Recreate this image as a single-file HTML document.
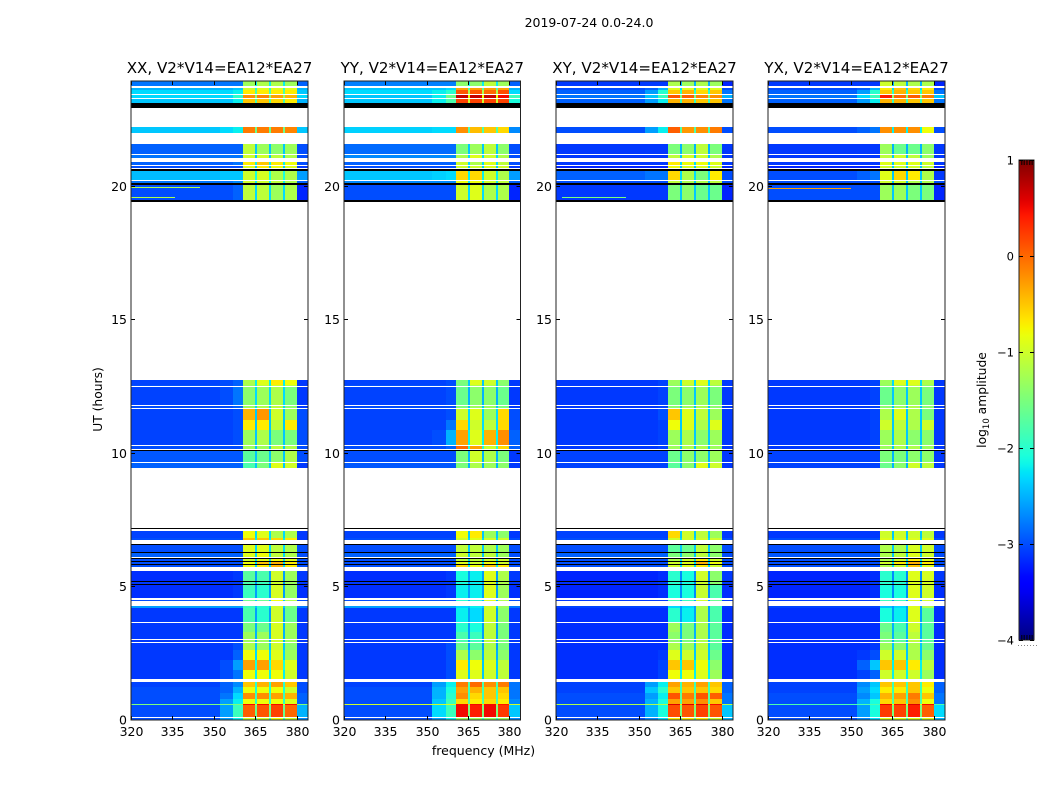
<!DOCTYPE html>
<html>
<head>
<meta charset="utf-8">
<title>2019-07-24 0.0-24.0</title>
<style>
html,body{margin:0;padding:0;background:#fff;}
svg{display:block;}
text{font-family:"DejaVu Sans","Liberation Sans",sans-serif;fill:#000;}
</style>
</head>
<body>
<svg id="fig" xmlns="http://www.w3.org/2000/svg" width="1050" height="800" viewBox="0 0 1050 800">
  <defs><linearGradient id="jetGrad" x1="0" y1="1" x2="0" y2="0"></linearGradient></defs>
  <text x="589" y="27" font-size="12.5" text-anchor="middle">2019-07-24 0.0-24.0</text>
  <text x="483.5" y="755" font-size="12.5" text-anchor="middle">frequency (MHz)</text>
  <text transform="translate(102,399.5) rotate(-90)" font-size="12.3" text-anchor="middle">UT (hours)</text>
  <text transform="translate(986,400) rotate(-90)" font-size="12.3" text-anchor="middle">log<tspan font-size="8.5" dy="3">10</tspan><tspan dy="-3"> amplitude</tspan></text>
</svg>
<script>
// Time rows (UT hours) that contain data; anything else is left blank (white).
const utLow  = [23.75,23.6,23.43,23.28,23.12,21.99,21.19,21.04,20.79,20.69,20.22,20.1,19.48,
  12.56,12.49,11.8,11.69,11.24,10.86,10.3,10.15,9.66,9.45,
  6.80,6.74,6.29,6.09,5.97,5.84,5.73,5.22,5.11,4.57,4.46,4.19,3.67,3.30,3.03,2.92,2.62,2.25,1.87,1.52,1.24,1.01,0.79,0.6,0.56,0.11,0];
const utHigh = [23.93,23.68,23.6,23.40,23.24,22.2,21.57,21.15,20.88,20.75,20.56,20.18,20.03,
  12.73,12.53,12.47,11.76,11.65,11.24,10.86,10.25,10.07,9.63,
  7.08,6.80,6.55,6.25,6.03,5.94,5.80,5.58,5.19,5.07,4.49,4.27,4.19,3.63,3.30,3.0,2.88,2.62,2.25,1.87,1.44,1.24,1.01,0.79,0.6,0.56,0.07];
// Frequency channels (MHz) and which value of a row each channel reads.
const freqEdges = [320,352,357,360.5,364.8,365.7,370,370.7,375,375.8,380,384];
const channelField = [0,1,2,3,8,4,8,5,8,6,7];
// Flagged (black) time ranges.
const flagLow  = [22.93,20.56,20.03,19.41,10.07,7.15,6.55,6.25,6.03,5.94,5.80,5.19,5.07];
const flagHigh = [23.12,20.62,20.10,19.48,10.12,7.19,6.59,6.29,6.06,5.97,5.84,5.22,5.11];
// log10 amplitude per row: [bg, edge1, edge2, band1, band2, band3, band4, post, gap]
const ampXX = [
[-2.8,-2.8,-2.8,-1.3,-1.2,-1.2,-1.3,-2.9,-2.2],[-2.5,-2.5,-2.4,-1,-.9,-.9,-.9,-2.5,-2],[-2.3,-2.3,-2.2,-.7,-.7,-.7,-.7,-2.4,-1.8],[-2.3,-2.3,-2,-.2,-.15,-.3,-.4,-2.3,-1.4],[-2.4,-2.4,-2.2,-.5,-.5,-.6,-.7,-2.5,-1.8],
[-2.4,-2.3,-2.2,-.1,-.1,-.1,-.15,-2.4,-1.6],[-2.9,-2.9,-2.9,-1.1,-1.3,-1.4,-1.3,-3,-2.4],[-2.8,-2.8,-2.8,-1,-1,-1.1,-1.2,-3,-2.4],[-2.9,-2.9,-2.8,-.7,-.5,-.7,-.8,-3,-2.2],[-3,-3,-3,-.9,-.7,-.8,-.9,-3.1,-2.4],
[-2.45,-2.4,-2.4,-1,-.95,-1.2,-1.2,-2.6,-2.1],[-2.8,-2.8,-2.7,-1,-1,-1.1,-1.2,-2.9,-2.2],[-3,-3,-2.9,-1.1,-1.1,-1.3,-1.2,-3.2,-2.3],
[-3.05,-3,-2.9,-1.2,-.9,-.7,-.8,-3.1,-2.2],[-3,-3,-2.9,-1.3,-1.1,-1,-1.1,-3.1,-2.2],[-3.05,-3,-2.8,-1.4,-1.3,-1.2,-1.5,-3.1,-2.3],[-3,-3,-2.9,-1.3,-1.2,-1.1,-1.4,-3.1,-2.3],
[-3.05,-3.05,-3,-.4,-.25,-1,-1.3,-3,-2.4],[-3.05,-3.05,-3,-.7,-.7,-1.1,-.7,-3,-2.4],[-3.05,-3.05,-3,-1.3,-1.2,-1.5,-1.5,-3,-2.4],[-3,-3,-3,-1.3,-1.3,-1.1,-1.2,-3,-2.4],[-2.95,-2.95,-2.95,-1.7,-1.6,-1.4,-1.2,-3,-2.4],[-2.9,-2.9,-2.9,-1.8,-1.5,-.9,-1,-3.1,-2.4],
[-3.05,-3.05,-3.05,-.8,-.9,-1.2,-1.2,-3.1,-2.3],[-3,-3,-3,-.5,-.5,-.6,-.7,-3.1,-2.2],[-3,-3,-3,-.9,-.9,-1.1,-1.2,-3,-2.3],[-2.9,-2.9,-2.9,-.9,-.8,-1.1,-1.2,-3,-2.3],[-3,-3,-3,-1,-.9,-.8,-.9,-3,-2.3],[-3,-3,-3,-.8,-.5,-.4,-.7,-3,-2.3],[-3,-3,-3,-.8,-.7,-.4,-.7,-3,-2.3],
[-3.15,-3.15,-3.1,-1.7,-1.8,-1,-1.3,-3.1,-2.6],[-3.1,-3.1,-3.1,-1.8,-1.9,-1,-1.3,-3.1,-2.6],[-3.15,-3.15,-3.1,-1.9,-2,-.95,-1.35,-3.15,-2.6],[-3,-3,-3,-1.6,-1.6,-.8,-1.2,-3,-2.4],
[-2.6,-2.6,-2.6,-1.9,-2,-1,-1.5,-2.8,-2.4],[-3.1,-3.1,-3.1,-1.8,-2,-1,-1.6,-3.1,-2.6],[-3.1,-3.1,-3.1,-1.5,-1.6,-.95,-1.3,-3.1,-2.5],[-3.1,-3.1,-3.1,-1.3,-1.3,-.95,-1.3,-3.1,-2.5],[-3.1,-3.1,-3.1,-1.3,-1.3,-1,-1.3,-3.1,-2.5],
[-3.1,-3.1,-3,-1.2,-1.3,-1,-1.4,-3.1,-2.4],[-3.1,-3.1,-2.9,-.8,-.8,-.9,-1.3,-3.1,-2.3],[-3.1,-3,-2.6,-.3,-.3,-.6,-.9,-3.1,-2.1],[-3.1,-3,-2.8,-.8,-.8,-.8,-1,-3.1,-2.2],
[-3.05,-2.9,-2.7,-.5,-.4,-.3,-.5,-3,-2],[-3,-2.9,-2.5,-.8,-.8,-.8,-1,-3,-2.1],[-3,-2.8,-2.3,-.2,-.2,-.3,-.4,-2.9,-1.9],[-3,-2.6,-2.2,-.8,-.8,-.8,-.9,-2.9,-2],
[-1.5,-1.5,-1.5,.5,.5,.5,.5,-1.5,-.8],[-3,-2.6,-1.9,.05,.1,.2,0,-2.5,-1.6],[-3,-2.6,-2.2,-1,-1,-.8,-1,-2.7,-2]];
const ampYY = [
[-2.75,-2.75,-2.75,-1.4,-1.4,-1.1,-1.3,-2.9,-2.2],[-2.4,-2.4,-2.3,-.3,-.3,-.3,-.3,-2.5,-1.8],[-2.3,-2.2,-2,.1,.1,0,.15,-2.3,-1.2],[-2.4,-2.2,-1.6,.7,.7,.7,.5,-1.9,-.8],[-2.4,-2.2,-1.8,.2,.2,.2,.2,-2.1,-1],
[-2.35,-2.3,-2.3,-.2,-.45,-.5,-.6,-2.7,-1.8],[-2.85,-2.85,-2.85,-1.5,-1.3,-1.1,-1.4,-3,-2.4],[-2.7,-2.7,-2.7,-1.2,-.9,-1,-1.2,-3,-2.3],[-2.9,-2.9,-2.9,-1,-1.2,-.9,-1.1,-3,-2.3],[-3,-3,-3,-1,-1,-.9,-1,-3.1,-2.4],
[-2.4,-2.35,-2.3,-.6,-.6,-1,-1.2,-2.6,-2.2],[-2.7,-2.7,-2.7,-.8,-.8,-1,-1.1,-2.9,-2.2],[-3,-3,-3,-1,-.9,-1.2,-1.2,-3.2,-2.3],
[-3.05,-3.05,-3,-1.5,-.9,-1,-1.4,-3.1,-2.4],[-3,-3,-3,-1.6,-1.2,-1.2,-1.5,-3.1,-2.4],[-3.05,-3.05,-3,-1.6,-1.4,-1.4,-1.6,-3.1,-2.5],[-3,-3,-3,-1.5,-1.3,-1.3,-1.5,-3.1,-2.4],
[-3.05,-3.05,-3,-1,-.9,-1.3,-.6,-3,-2.3],[-3.05,-3.05,-2.8,-.6,-1,-1.1,-.6,-3,-2.3],[-3.05,-3,-2.5,-.3,-.9,-.4,-.2,-2.9,-2.2],[-3,-3,-2.9,0,-.3,-1,-.6,-2.9,-2.1],[-3,-3,-3,-1.5,-1,-1.2,-1.5,-3.1,-2.5],[-2.95,-2.95,-2.95,-1.5,-1.2,-1.3,-1.4,-3.1,-2.5],
[-3.05,-3.05,-3.05,-.8,-.7,-1.3,-1.4,-3.1,-2.4],[-3,-3,-3,-1,-.9,-1,-1,-3,-2.3],[-3,-3,-3,-1.1,-1.1,-1.2,-1.3,-3,-2.4],[-2.9,-2.9,-2.9,-1,-1.1,-1.1,-1.3,-3,-2.4],[-3,-3,-3,-1.1,-1.1,-1,-1,-3,-2.3],[-3,-3,-3,-.9,-1,-.8,-1,-3,-2.3],[-3,-3,-3,-.6,-.8,-.5,-.7,-3,-2.2],
[-3.15,-3.15,-3.1,-2.1,-2.2,-.9,-1.2,-3.1,-2.6],[-3.1,-3.1,-3.1,-2.1,-2.2,-.9,-1.2,-3.1,-2.6],[-3.15,-3.15,-3.1,-2.2,-2.2,-.9,-1.3,-3.15,-2.6],[-3,-3,-3,-2,-2,-.9,-1.2,-3,-2.5],
[-2.6,-2.6,-2.6,-2.3,-2.2,-1,-1.3,-2.8,-2.4],[-3.1,-3.1,-3.1,-2.2,-2.3,-1,-1.4,-3.1,-2.6],[-3.1,-3.1,-3.1,-2,-2.1,-1.1,-1.5,-3.1,-2.6],[-3.1,-3.1,-3.1,-1.8,-1.9,-1.1,-1.5,-3.1,-2.6],[-3.1,-3.1,-3.1,-1.8,-1.9,-1.1,-1.5,-3.1,-2.6],
[-3.1,-3.1,-3,-1.6,-1.7,-1.2,-1.5,-3.1,-2.6],[-3.1,-3.1,-3,-1.2,-1.4,-1.1,-1.4,-3.1,-2.5],[-3.1,-3.1,-3,-.7,-.8,-.9,-1.1,-3.1,-2.4],[-3.1,-3.1,-3,-.9,-.9,-1,-1.1,-3.1,-2.4],
[-3.05,-2.6,-2.2,-.1,0,-.2,-.1,-2.8,-1.8],[-3,-2.5,-2.1,-.3,-.4,-.5,-.5,-2.8,-1.9],[-3,-2.5,-2,-.2,-.6,-.5,-.6,-2.8,-1.9],[-3,-2.4,-1.9,-.6,-.7,-.6,-.7,-2.7,-1.8],
[-1,-1,-1,.5,.5,.5,.45,-1,-.6],[-3,-2.3,-1.9,.5,.4,.5,.25,-2.4,-1.5],[-3,-2.6,-2.2,-1.3,-1.3,-1.3,-1.3,-2.7,-2]];
const ampXY = [
[-3.1,-3.1,-3.1,-1.2,-1.3,-1.2,-1.3,-3.2,-2.5],[-3,-2.9,-2.5,-.9,-.9,-.9,-.9,-3,-2.3],[-2.9,-2.6,-2,-.5,-.4,-.6,-.5,-2.8,-2],[-2.8,-2.4,-1.9,.1,.05,-.15,-.2,-2.5,-1.5],[-2.9,-2.6,-2.2,-.4,-.4,-.5,-.5,-2.8,-1.9],
[-3,-2.6,-2.2,.05,-.25,-.2,-.1,-3,-1.8],[-3.1,-3.1,-3.1,-1.5,-1.4,-1.1,-1.5,-3.1,-2.5],[-3.1,-3.1,-3.1,-1.1,-.95,-1,-1.2,-3.1,-2.4],[-3.1,-3.1,-3.1,-.7,-.8,-.8,-.9,-3.1,-2.3],[-3.2,-3.2,-3.2,-.8,-.9,-.9,-1,-3.2,-2.4],
[-2.9,-2.8,-2.8,-.6,-1.2,-1.5,-.7,-3,-2.3],[-3,-3,-3,-1.1,-1.2,-1.2,-1.1,-3,-2.4],[-3.1,-3.1,-3.1,-1.5,-1.4,-1.6,-1.6,-3.2,-2.4],
[-3.1,-3.1,-3.05,-1.3,-1,-.9,-1.1,-3.1,-2.3],[-3.1,-3.1,-3.05,-1.4,-1.2,-1.1,-1.3,-3.1,-2.3],[-3.1,-3.1,-3.05,-1.5,-1.4,-1.3,-1.5,-3.1,-2.4],[-3.1,-3.1,-3.05,-1.4,-1.3,-1.2,-1.4,-3.1,-2.4],
[-3.1,-3.1,-3,-.5,-.9,-1.1,-1.3,-3.1,-2.4],[-3.1,-3.1,-3.05,-.8,-.9,-1.2,-.9,-3.1,-2.4],[-3.1,-3.1,-3.05,-1.3,-1.2,-1.4,-1.3,-3.1,-2.4],[-3.1,-3.1,-3.05,-1.3,-1.2,-1.2,-1.3,-3.1,-2.4],[-3.05,-3.05,-3.05,-1.6,-1.4,-1.4,-1.3,-3.1,-2.5],[-3.05,-3.05,-3.05,-1.7,-1.4,-.9,-1,-3.1,-2.5],
[-3.05,-3.05,-3.05,-.6,-1,-1.1,-1.3,-3.1,-2.4],[-3,-3,-3,-1,-1,-1,-1,-3,-2.3],[-3,-3,-3,-1.7,-1.6,-1.1,-1.4,-3,-2.4],[-2.9,-2.9,-2.9,-1.5,-1.4,-1.1,-1.4,-3,-2.4],[-3,-3,-3,-1.2,-1,-.7,-1,-3,-2.3],[-3,-3,-3,-1,-.9,-.4,-.8,-3,-2.3],[-3,-3,-3,-1,-.9,-.7,-1,-3,-2.3],
[-3.2,-3.2,-3.15,-2,-2.1,-1,-1.4,-3.1,-2.7],[-3.15,-3.15,-3.1,-2,-2.1,-1,-1.4,-3.1,-2.7],[-3.2,-3.2,-3.15,-2.1,-2.1,-1.05,-1.8,-3.15,-2.7],[-3.1,-3.1,-3.1,-1.8,-1.9,-1,-1.6,-3.1,-2.6],
[-3.05,-3.05,-3.05,-2.3,-2.3,-1.2,-1.8,-3.1,-2.6],[-3.15,-3.15,-3.15,-2,-2.2,-1.2,-1.8,-3.15,-2.6],[-3.15,-3.15,-3.15,-1.3,-1.5,-1.2,-1.7,-3.15,-2.5],[-3.15,-3.15,-3.15,-1.4,-1.5,-1.2,-1.7,-3.15,-2.5],[-3.15,-3.15,-3.15,-1.4,-1.5,-1.2,-1.7,-3.15,-2.5],
[-3.15,-3.15,-3.15,-1.2,-1.3,-1.1,-1.7,-3.15,-2.4],[-3.15,-3.15,-3.1,-.9,-1,-1,-1.6,-3.15,-2.4],[-3.15,-3.15,-3.05,-.5,-.5,-.8,-1.4,-3.15,-2.2],[-3.15,-3.15,-3.05,-.8,-.8,-.9,-1.3,-3.15,-2.2],
[-3.05,-2.6,-2.2,-.3,-.4,-.3,-.5,-2.9,-1.9],[-3.05,-2.4,-2,-.5,-.5,-.5,-.6,-2.9,-1.9],[-3,-2.6,-2.2,.1,-.1,.1,.05,-2.8,-1.7],[-3,-2.5,-2.1,-.3,-.3,-.2,-.5,-2.8,-1.8],
[-1.2,-1.2,-1.2,.6,.6,.6,.5,-1.2,-.7],[-3,-2.5,-2.1,.15,.1,.2,.1,-2.4,-1.5],[-3,-2.7,-2.3,-.7,-.7,-.7,-1,-2.5,-1.8]];
const ampYX = [
[-3.1,-3.1,-3.1,-1,-1.1,-1.2,-1.2,-3.2,-2.5],[-3,-2.9,-2.5,-.7,-.5,-.6,-.7,-3,-2.3],[-2.9,-2.6,-2,-.5,-.4,-.5,-.5,-2.8,-2],[-2.8,-2.3,-1.9,.4,0,.05,-.1,-2.4,-1.4],[-2.9,-2.6,-2.2,-.4,-.4,-.5,-.5,-2.8,-1.9],
[-3,-2.9,-2.8,-.2,-.2,-.2,-.8,-3,-2.2],[-3.1,-3.1,-3.1,-1.3,-1.6,-1.6,-1.4,-3.1,-2.5],[-3.1,-3.1,-3.1,-1.1,-1,-1.1,-1.3,-3.1,-2.4],[-3.1,-3.1,-3.1,-.9,-.9,-.9,-1,-3.1,-2.4],[-3.2,-3.2,-3.2,-1,-1,-1,-1.1,-3.2,-2.4],
[-3,-2.9,-2.8,-.9,-.6,-.7,-1.2,-3.1,-2.4],[-3,-3,-3,-1,-1,-1.2,-1.2,-3,-2.4],[-3,-3,-3,-1.3,-1.3,-1.5,-1.5,-3.2,-2.4],
[-3.1,-3.1,-3.05,-1.3,-.9,-.9,-1.2,-3.1,-2.3],[-3.1,-3.1,-3.05,-1.4,-1.2,-1.1,-1.4,-3.1,-2.3],[-3.1,-3.1,-3.05,-1.6,-1.4,-1.3,-1.5,-3.1,-2.4],[-3.1,-3.1,-3.05,-1.4,-1.3,-1.2,-1.4,-3.1,-2.4],
[-3.1,-3.1,-3.05,-1.2,-.9,-1.2,-1.5,-3.1,-2.4],[-3.1,-3.1,-3.05,-1,-1.1,-1.2,-1,-3.1,-2.4],[-3.1,-3.1,-3.05,-1.3,-1.2,-1.4,-1.4,-3.1,-2.4],[-3.1,-3.1,-3.05,-1.3,-1.2,-1.2,-1.3,-3.1,-2.4],[-3.05,-3.05,-3.05,-1.5,-1.5,-1.4,-1.4,-3.1,-2.5],[-3.05,-3.05,-3.05,-1.6,-1.4,-1,-1.1,-3.1,-2.5],
[-3.1,-3.1,-3.1,-1,-1,-1,-1.1,-3.1,-2.4],[-3,-3,-3,-.9,-.9,-.9,-.9,-3,-2.3],[-3,-3,-3,-1.2,-1.2,-.95,-1,-3,-2.4],[-2.95,-2.95,-2.95,-1.2,-1.1,-.9,-1,-3,-2.4],[-3,-3,-3,-1.2,-1,-.7,-.9,-3,-2.3],[-3,-3,-3,-1,-.7,-.4,-.7,-3,-2.3],[-3,-3,-3,-1.2,-1,-.5,-.9,-3,-2.3],
[-3.2,-3.2,-3.15,-2,-2,-.9,-.95,-3.1,-2.7],[-3.15,-3.15,-3.1,-2,-2,-.9,-.95,-3.1,-2.7],[-3.2,-3.2,-3.15,-2.1,-2.1,-.9,-1,-3.15,-2.7],[-3.1,-3.1,-3.1,-1.9,-1.9,-.9,-1,-3.1,-2.6],
[-3.05,-3.05,-3.05,-2.4,-2.3,-.9,-1.2,-3.1,-2.6],[-3.15,-3.15,-3.15,-2.1,-2.2,-.9,-1.7,-3.15,-2.6],[-3.15,-3.15,-3.15,-1.6,-1.8,-1,-1.7,-3.15,-2.5],[-3.15,-3.15,-3.15,-1.5,-1.7,-1.1,-1.7,-3.15,-2.5],[-3.15,-3.15,-3.15,-1.5,-1.7,-1.1,-1.7,-3.15,-2.5],
[-3.15,-3.15,-3.1,-1.3,-1.4,-1.2,-1.6,-3.15,-2.4],[-3.15,-3.1,-3,-1,-1,-1.2,-1.4,-3.15,-2.4],[-3.15,-2.9,-2.4,-.5,-.5,-.7,-1.1,-3.15,-2.2],[-3.15,-3.05,-2.9,-1,-1,-1,-1.3,-3.15,-2.2],
[-3.05,-2.7,-2.4,-.5,-.5,-.5,-.7,-2.9,-1.9],[-3.05,-2.6,-2.3,-.7,-.7,-.5,-.8,-2.9,-1.9],[-3,-2.7,-2.4,-.4,-.3,-.1,-.5,-2.8,-1.8],[-3,-2.5,-2.1,-.6,-.5,-.2,-.8,-2.8,-1.8],
[-1.8,-1.8,-1.8,.55,.5,.6,.5,-1.8,-.8],[-3,-2.6,-2.1,.25,.2,.4,.05,-2.3,-1.5],[-3,-2.7,-2.3,-.9,-.9,-.9,-.9,-2.5,-1.9]];
// Narrow-band interference lines: [UT, start MHz, end MHz, log10 amplitude]
const spursXX = [[19.96,320,345,-1.2],[19.6,320,336,-1.2]];
const spursYY = [];
const spursXY = [[19.6,322,345,-1.5]];
const spursYX = [[19.92,320,350,-.3]];
// Labels and ticks
const panelTitles = ["XX, V2*V14=EA12*EA27","YY, V2*V14=EA12*EA27","XY, V2*V14=EA12*EA27","YX, V2*V14=EA12*EA27"];
const freqTicks = [320,335,350,365,380];
const utTicks = [0,5,10,15,20];
const cbarTicks = [1,0,-1,-2,-3,-4];
const cbarMinor = [0.87,0.895,0.925,0.955,0.98];

const svg = document.getElementById('fig');
const NS = 'http://www.w3.org/2000/svg';
const panelLeft = [131,344,556,768];
const panelRight = [308,520.5,733,945];
const plotTop = 81, plotBottom = 720, freqMin = 320, freqMax = 384, utMax = 23.93;
function xScale(p, f){ return panelLeft[p] + (f - freqMin) / (freqMax - freqMin) * (panelRight[p] - panelLeft[p]); }
function yScale(u){ return plotBottom - u / utMax * (plotBottom - plotTop); }
function ramp(t, a, b){ return Math.max(0, Math.min(1, (t - a) / (b - a))); }
function jet(t){
  t = Math.max(0, Math.min(1, t));
  let r = t < .89 ? ramp(t,.35,.66) : 1 - .5 * ramp(t,.89,1);
  let g = t < .5 ? ramp(t,.125,.375) : 1 - ramp(t,.64,.91);
  let b = t < .3 ? .5 + .5 * ramp(t,0,.11) : 1 - ramp(t,.34,.65);
  return 'rgb(' + Math.round(r*255) + ',' + Math.round(g*255) + ',' + Math.round(b*255) + ')';
}
function colorOf(v){ return jet((v + 4) / 5); }
function mk(tag, parent){ const e = document.createElementNS(NS, tag); parent.appendChild(e); return e; }

const panelAmps = [ampXX, ampYY, ampXY, ampYX];
const panelSpurs = [spursXX, spursYY, spursXY, spursYX];

panelAmps.forEach(function(amp, p){
  const g = mk('g', svg);
  
  
  amp.forEach(function(row, r){
    channelField.forEach(function(field, c){
      const cell = mk('rect', g);
      
      
      const x0 = Math.round(xScale(p, freqEdges[c])), x1 = Math.round(xScale(p, freqEdges[c+1]));
      const y0 = Math.round(yScale(utHigh[r])), y1 = Math.round(yScale(utLow[r]));
      cell.setAttribute('x', x0);
      cell.setAttribute('y', y0);
      cell.setAttribute('width', x1 - x0);
      cell.setAttribute('height', Math.max(1, y1 - y0));
      cell.setAttribute('fill', colorOf(row[field]));
    });
  });
  panelSpurs[p].forEach(function(s){
    const line = mk('rect', g);
    
    
    line.setAttribute('x', Math.round(xScale(p, s[1])));
    line.setAttribute('y', Math.round(yScale(s[0])));
    line.setAttribute('width', Math.round(xScale(p, s[2]) - xScale(p, s[1])));
    line.setAttribute('height', 1);
    line.setAttribute('fill', colorOf(s[3]));
  });
  flagLow.forEach(function(lo, i){
    const flag = mk('rect', g);
    
    
    const y0 = Math.round(yScale(flagHigh[i])), y1 = Math.round(yScale(lo));
    flag.setAttribute('x', panelLeft[p]);
    flag.setAttribute('y', y0);
    flag.setAttribute('width', panelRight[p] - panelLeft[p]);
    flag.setAttribute('height', Math.max(1, y1 - y0));
    flag.setAttribute('fill', '#000');
  });
  freqTicks.forEach(function(f){
    const x = Math.round(xScale(p, f)) + .5;
    [[plotBottom, plotBottom - 4], [plotTop, plotTop + 4]].forEach(function(ends){
      const t = mk('line', g);
      
      
      t.setAttribute('x1', x); t.setAttribute('x2', x);
      t.setAttribute('y1', ends[0]); t.setAttribute('y2', ends[1]);
      t.setAttribute('stroke', '#000');
    });
    const lab = mk('text', g);
    
    
    lab.setAttribute('x', x);
    lab.setAttribute('y', 736);
    lab.setAttribute('font-size', '12.5');
    lab.setAttribute('text-anchor', 'middle');
    lab.textContent = f;
  });
  utTicks.forEach(function(u){
    const y = Math.round(yScale(u)) + (u === 0 ? 0 : .5);
    [[panelLeft[p], panelLeft[p] + 4], [panelRight[p], panelRight[p] - 4]].forEach(function(ends){
      const t = mk('line', g);
      
      
      t.setAttribute('y1', y); t.setAttribute('y2', y);
      t.setAttribute('x1', ends[0]); t.setAttribute('x2', ends[1]);
      t.setAttribute('stroke', '#000');
    });
    const lab = mk('text', g);
    
    
    lab.setAttribute('x', panelLeft[p] - 4);
    lab.setAttribute('y', y + 4.5);
    lab.setAttribute('font-size', '12.5');
    lab.setAttribute('text-anchor', 'end');
    lab.textContent = u;
  });
  const frame = mk('rect', g);
  
  
  frame.setAttribute('x', panelLeft[p]);
  frame.setAttribute('y', plotTop);
  frame.setAttribute('width', panelRight[p] - panelLeft[p]);
  frame.setAttribute('height', plotBottom - plotTop);
  frame.setAttribute('fill', 'none');
  frame.setAttribute('stroke', '#222');
  const title = mk('text', g);
  
  
  title.setAttribute('x', (panelLeft[p] + panelRight[p]) / 2);
  title.setAttribute('y', 73);
  title.setAttribute('font-size', '15.1');
  title.setAttribute('text-anchor', 'middle');
  title.textContent = panelTitles[p];
});

// Colorbar
const cbX = 1019, cbW = 15, cbTop = 160, cbBottom = 640;
function cbY(v){ return cbBottom - (v + 4) / 5 * (cbBottom - cbTop); }
const grad = document.getElementById('jetGrad');
for (let i = 0; i <= 60; i++) {
  const stop = document.createElementNS(NS, 'stop');
  stop.setAttribute('offset', i / 60);
  stop.setAttribute('stop-color', jet(i / 60));
  grad.appendChild(stop);
}
const cb = mk('g', svg);


const cbRect = mk('rect', cb);


cbRect.setAttribute('x', cbX);
cbRect.setAttribute('y', cbTop);
cbRect.setAttribute('width', cbW);
cbRect.setAttribute('height', cbBottom - cbTop);
cbRect.setAttribute('fill', 'url(#jetGrad)');
cbRect.setAttribute('stroke', '#222');
cbarTicks.forEach(function(v){
  const y = Math.round(cbY(v)) + .5;
  [[cbX, cbX + 4], [cbX + cbW, cbX + cbW - 4]].forEach(function(ends){
    const t = mk('line', cb);
    
    
    t.setAttribute('x1', ends[0]); t.setAttribute('x2', ends[1]);
    t.setAttribute('y1', y); t.setAttribute('y2', y);
    t.setAttribute('stroke', '#000');
  });
  const lab = mk('text', cb);
  
  
  lab.setAttribute('x', cbX - 5);
  lab.setAttribute('y', y + 4);
  lab.setAttribute('font-size', '11.5');
  lab.setAttribute('text-anchor', 'end');
  lab.textContent = (v < 0 ? '\u2212' + (-v) : v);
});
cbarMinor.forEach(function(frac){
  [cbTop, cbBottom].forEach(function(edge){
    const t = mk('line', cb);
    
    
    const x = cbX + (frac - 0.84) / 0.16 * cbW;
    t.setAttribute('x1', x); t.setAttribute('x2', x);
    t.setAttribute('y1', edge); t.setAttribute('y2', edge === cbTop ? edge + 5 : edge - 5);
    t.setAttribute('stroke', '#000');
  });
});
for (let i = 0; i < 7; i++) {
  const dot = mk('rect', cb);
  
  
  dot.setAttribute('x', cbX - 1 + i * 3);
  dot.setAttribute('y', 645);
  dot.setAttribute('width', 1);
  dot.setAttribute('height', 1);
  dot.setAttribute('fill', '#888');
}
</script>
</body>
</html>
